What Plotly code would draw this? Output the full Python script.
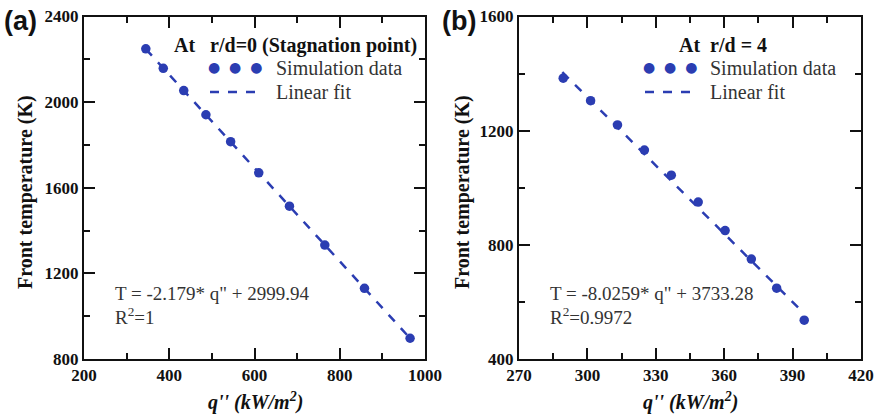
import plotly.graph_objects as go

# ---------------- data ----------------
q_a = [345, 386, 434, 486, 544, 610, 682, 765, 858, 965]
T_a = [2249, 2158, 2054, 1941, 1815, 1670, 1514, 1332, 1130, 897]
fit_q_a = [345, 965]
fit_T_a = [2248, 897]

q_b = [289.4, 301.4, 313.2, 325.0, 336.8, 348.6, 360.4, 371.9, 383.0, 395.1]
T_b = [1384, 1305, 1220, 1132, 1044, 950, 850, 750, 648, 536]
fit_q_b = [289, 394]
fit_T_b = [1405, 568]

xticks_a = [200, 400, 600, 800, 1000]
yticks_a = [800, 1200, 1600, 2000, 2400]
xticks_b = [270, 300, 330, 360, 390, 420]
yticks_b = [400, 800, 1200, 1600]

eq_a = ["T = -2.179* q\" + 2999.94", "R<sup>2</sup>=1"]
eq_b = ["T = -8.0259* q\" + 3733.28", "R<sup>2</sup>=0.9972"]
legend_title_a = "At&nbsp;&nbsp; r/d=0 (Stagnation point)"
legend_title_b = "At&nbsp; r/d = 4"

BLUE = "#2b3db2"
SERIF = "Liberation Serif, Times New Roman, serif"
SANS = "Liberation Sans, Arial, sans-serif"
W, H = 878, 417

fig = go.Figure()

fig.add_trace(go.Scatter(x=fit_q_a, y=fit_T_a, mode="lines",
                         line=dict(color=BLUE, width=2.5, dash="dash"),
                         xaxis="x", yaxis="y", showlegend=False))
fig.add_trace(go.Scatter(x=q_a, y=T_a, mode="markers",
                         marker=dict(color=BLUE, size=9.5),
                         xaxis="x", yaxis="y", showlegend=False))
fig.add_trace(go.Scatter(x=fit_q_b, y=fit_T_b, mode="lines",
                         line=dict(color=BLUE, width=2.5, dash="dash"),
                         xaxis="x2", yaxis="y2", showlegend=False))
fig.add_trace(go.Scatter(x=q_b, y=T_b, mode="markers",
                         marker=dict(color=BLUE, size=9.5),
                         xaxis="x2", yaxis="y2", showlegend=False))

def px_x(p):
    return p / W

def px_y(p):
    return 1 - p / H

tickfont = dict(family=SERIF, size=17, color="#111", weight="bold")

def axis(rng, ticks, dtick_minor, dom, anchor):
    return dict(range=rng, tickvals=ticks, domain=dom, anchor=anchor,
                showgrid=False, zeroline=False,
                showline=True, linecolor="#111", linewidth=2, mirror="ticks",
                ticks="inside", ticklen=11, tickwidth=2, tickcolor="#111",
                minor=dict(dtick=dtick_minor, ticks="inside", ticklen=6, tickwidth=2,
                           tickcolor="#111", showgrid=False),
                tickfont=tickfont, automargin=False, ticklabeloverflow="allow")

dom_y = [px_y(359), px_y(16.5)]
xa = axis([200, 1000], xticks_a, 100, [px_x(84), px_x(425)], "y")
ya = axis([800, 2400], yticks_a, 200, dom_y, "x")
xb = axis([270, 420], xticks_b, 15, [px_x(519), px_x(861)], "y2")
yb = axis([400, 1600], yticks_b, 200, dom_y, "x2")

fig.update_layout(
    width=W, height=H, margin=dict(l=0, r=0, t=0, b=0),
    paper_bgcolor="white", plot_bgcolor="white",
    xaxis=xa, yaxis=ya, xaxis2=xb, yaxis2=yb,
    showlegend=False,
)

ann = []
# panel labels
for lab, cx in (("(a)", 20), ("(b)", 459)):
    ann.append(dict(text="<b>" + lab + "</b>", x=px_x(cx), y=px_y(21), xref="paper", yref="paper",
                    xanchor="center", yanchor="middle", showarrow=False,
                    font=dict(family=SANS, size=27, color="#111")))
# axis titles
for cx in (25, 462):
    ann.append(dict(text="<b>Front temperature (K)</b>", x=px_x(cx), y=px_y(192),
                    xref="paper", yref="paper", textangle=-90, showarrow=False,
                    xanchor="center", yanchor="middle",
                    font=dict(family=SERIF, size=20, color="#111")))
for cx in (255, 690):
    ann.append(dict(text="<b><i>q'' (kW/m<sup>2</sup>)</i></b>", x=px_x(cx), y=px_y(401),
                    xref="paper", yref="paper", showarrow=False,
                    xanchor="center", yanchor="middle",
                    font=dict(family=SERIF, size=20, color="#111")))

shapes = []

# legend blocks
def legend(title, title_x, dots_x, text_x, line_x0, line_x1):
    ann.append(dict(text="<b>" + title + "</b>", x=px_x(title_x), y=px_y(45),
                    xref="paper", yref="paper", showarrow=False, xanchor="left", yanchor="middle",
                    font=dict(family=SERIF, size=20, color="#111")))
    ann.append(dict(text="●&nbsp;&nbsp;●&nbsp;&nbsp;●", x=px_x(dots_x), y=px_y(67),
                    xref="paper", yref="paper", showarrow=False, xanchor="left", yanchor="middle",
                    font=dict(family="DejaVu Sans", size=14, color=BLUE)))
    ann.append(dict(text="Simulation data", x=px_x(text_x), y=px_y(68),
                    xref="paper", yref="paper", showarrow=False, xanchor="left", yanchor="middle",
                    font=dict(family=SERIF, size=20, color="#333")))
    ann.append(dict(text="Linear fit", x=px_x(text_x), y=px_y(92),
                    xref="paper", yref="paper", showarrow=False, xanchor="left", yanchor="middle",
                    font=dict(family=SERIF, size=20, color="#333")))
    shapes.append(dict(type="line", xref="paper", yref="paper",
                       x0=px_x(line_x0), x1=px_x(line_x1), y0=px_y(92), y1=px_y(92),
                       line=dict(color=BLUE, width=2.5, dash="dash")))

legend(legend_title_a, 172, 206, 274, 210, 262)
legend(legend_title_b, 677, 641, 708, 645, 695)

# equations
for lines, x0 in ((eq_a, 113), (eq_b, 548)):
    ann.append(dict(text=lines[0], x=px_x(x0), y=px_y(293), xref="paper", yref="paper",
                    showarrow=False, xanchor="left", yanchor="middle",
                    font=dict(family=SERIF, size=19, color="#333")))
    ann.append(dict(text=lines[1], x=px_x(x0), y=px_y(316), xref="paper", yref="paper",
                    showarrow=False, xanchor="left", yanchor="middle",
                    font=dict(family=SERIF, size=19, color="#333")))

fig.update_layout(annotations=ann, shapes=shapes)
fig.write_html("out.html", config={"displayModeBar": False})

# remove the default page margin so the figure sits at the window's top-left corner
with open("out.html", "r", encoding="utf-8") as f:
    html = f.read()
html = html.replace("<body>", '<body style="margin:0;padding:0;overflow:hidden">', 1)
with open("out.html", "w", encoding="utf-8") as f:
    f.write(html)
